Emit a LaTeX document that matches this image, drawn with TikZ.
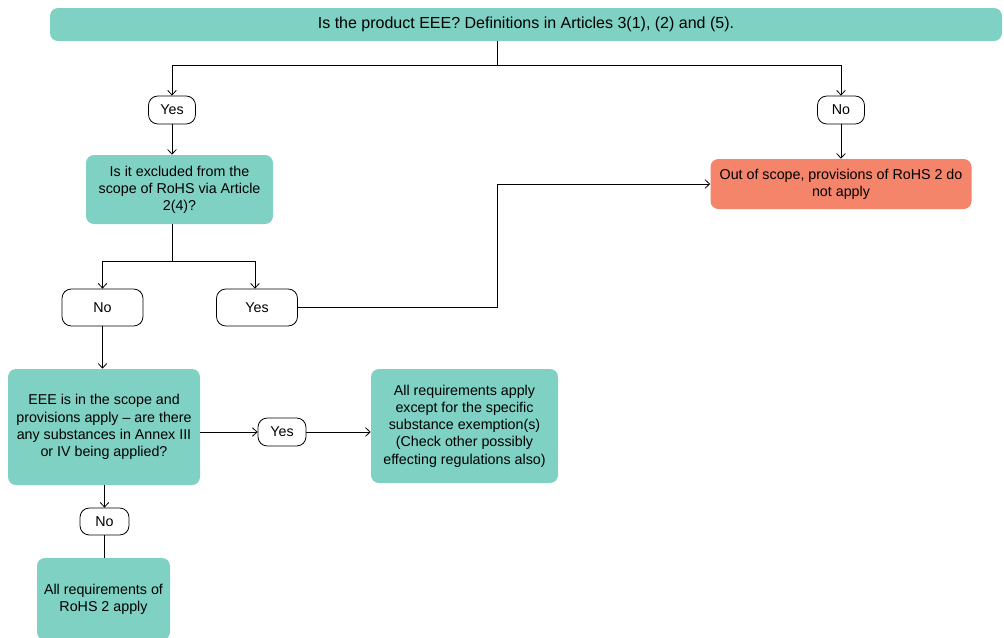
\documentclass[tikz,border=0pt]{standalone}
\usepackage{fontspec}
\setmainfont{Liberation Sans}
\usetikzlibrary{arrows.meta}
\definecolor{teal}{HTML}{7ED1C3}
\definecolor{salmon}{HTML}{F4846A}
\begin{document}
\begin{tikzpicture}[x=0.75pt,y=-0.75pt,
  font=\fontsize{10.7pt}{12.9pt}\selectfont,
  box/.style={fill=teal,rounded corners=6pt,align=center,inner sep=0pt},
  outbox/.style={box,fill=salmon},
  pill/.style={draw=black,line width=0.6pt,fill=white,rounded corners=7pt,inner sep=0pt,
               minimum width=#1},
  link/.style={line width=0.6pt,draw=black},
  arr/.style={link,-{Straight Barb[length=3.5pt,width=6.5pt]}}]
\useasboundingbox (0,0) rectangle (1004,637);

% decision and outcome boxes
\node[box,minimum width=714pt,minimum height=24.75pt,font=\fontsize{12pt}{14pt}\selectfont] (top) at (526,24.5)
  {Is the product EEE? Definitions in Articles 3(1), (2) and (5).};
\node[pill=35.25pt,minimum height=21pt] (yesA) at (172,110) {Yes};
\node[pill=35.25pt,minimum height=21pt] (noA) at (841,110) {No};
\node[box,minimum width=140.25pt,minimum height=51.75pt] (excl) at (179.5,189.5)
  {Is it excluded from the\\scope of RoHS via Article\\2(4)?};
\node[outbox,minimum width=195.75pt,minimum height=37.5pt] (out) at (841,184)
  {Out of scope, provisions of RoHS 2 do\\not apply};
\node[pill=60.75pt,minimum height=27.75pt] (noB) at (102.5,307.5) {No};
\node[pill=60.75pt,minimum height=27.75pt] (yesB) at (257,307.5) {Yes};
\node[box,minimum width=144pt,minimum height=87pt] (scope) at (104,427)
  {EEE is in the scope and\\provisions apply -- are there\\any substances in Annex III\\or IV being applied?};
\node[pill=36pt,minimum height=21pt] (yesC) at (282,432) {Yes};
\node[box,minimum width=140.25pt,minimum height=85.5pt] (exempt) at (464.5,426)
  {All requirements apply\\except for the specific\\substance exemption(s)\\(Check other possibly\\effecting regulations also)};
\node[pill=36.75pt,minimum height=20.25pt] (noC) at (104.5,521.5) {No};
\node[box,minimum width=99.75pt,minimum height=61.5pt] (all) at (103.5,599)
  {All requirements of\\RoHS 2 apply};

% junction points
\coordinate (t1) at (497,65);
\coordinate (e1) at (172,261.5);
\coordinate (y1) at (497,184);

% connectors
\draw[link] (top.south -| t1) -- (t1);
\draw[arr] (t1) -| (yesA.north);
\draw[arr] (t1) -| (noA.north);
\draw[arr] (yesA.south) -- (yesA.south |- excl.north);
\draw[arr] (noA.south) -- (out.north);
\draw[link] (excl.south -| e1) -- (e1);
\draw[arr] (e1) -| (noB.north);
\draw[arr] (e1) -| ([xshift=-1.5pt]yesB.north);
\draw[arr] (yesB.east) -| (y1) -- (out.west);
\draw[arr] (noB.south) -- (noB.south |- scope.north);
\draw[arr] (scope.east |- yesC) -- (yesC.west);
\draw[arr] (yesC.east) -- (yesC.east -| exempt.west);
\draw[arr] (scope.south -| noC) -- (noC.north);
\draw[link] (noC.south) -- (noC.south |- all.north);
\end{tikzpicture}
\end{document}
